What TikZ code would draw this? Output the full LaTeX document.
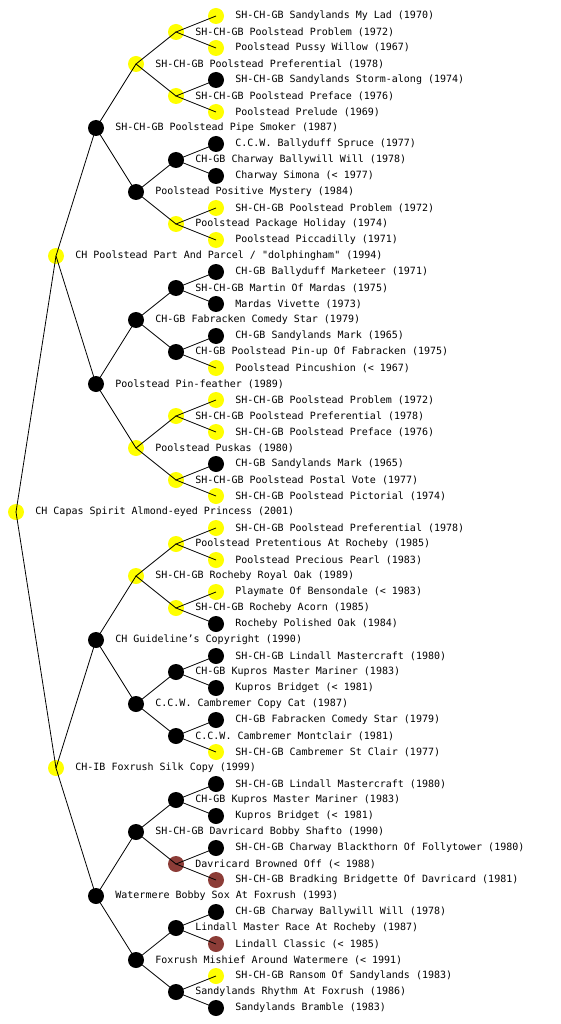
\documentclass[tikz,border=0pt]{standalone}
\usepackage{fontspec}
\setmonofont{DejaVu Sans Mono}
\usetikzlibrary{positioning}
\definecolor{dogyellow}{RGB}{255,255,0}
\definecolor{dogblack}{RGB}{0,0,0}
\definecolor{dogbrown}{RGB}{140,60,55}

\begin{document}
\begin{tikzpicture}[x=1pt, y=-1pt,
  dot/.style={circle, minimum size=16pt, inner sep=0pt},
  dogname/.style={anchor=west, inner sep=0pt, font=\ttfamily\fontsize{10}{12}\selectfont},
  link/.style={line width=0.8pt}]
  \useasboundingbox (0,0) rectangle (560,1024);
  % Chien (generation 0)
  \node[dot, fill=dogyellow] (dog31) at (16,512) {};
  \node[dogname, right=11pt of dog31] (lab31) {CH Capas Spirit Almond-eyed Princess (2001)};
  % Parents et grands-parents
  \foreach \r/\x/\c/\t in {
      15/56/dogyellow/{CH Poolstead Part And Parcel / "dolphingham" (1994)},
      47/56/dogyellow/{CH-IB Foxrush Silk Copy (1999)},
      7/96/dogblack/{SH-CH-GB Poolstead Pipe Smoker (1987)},
      23/96/dogblack/{Poolstead Pin-feather (1989)},
      39/96/dogblack/{CH Guideline’s Copyright (1990)},
      55/96/dogblack/{Watermere Bobby Sox At Foxrush (1993)}}
  {
    \node[dot, fill=\c] (dog\r) at (\x,16+16*\r) {};
    \node[dogname, right=11pt of dog\r] (lab\r) {\t};
  }
  % Arriere-grands-parents
  \foreach \r/\c/\t in {
      3/dogyellow/{SH-CH-GB Poolstead Preferential (1978)},
      11/dogblack/{Poolstead Positive Mystery (1984)},
      19/dogblack/{CH-GB Fabracken Comedy Star (1979)},
      27/dogyellow/{Poolstead Puskas (1980)},
      35/dogyellow/{SH-CH-GB Rocheby Royal Oak (1989)},
      43/dogblack/{C.C.W. Cambremer Copy Cat (1987)},
      51/dogblack/{SH-CH-GB Davricard Bobby Shafto (1990)},
      59/dogblack/{Foxrush Mishief Around Watermere (< 1991)}}
  {
    \node[dot, fill=\c] (dog\r) at (136,16+16*\r) {};
    \node[dogname, right=11pt of dog\r] (lab\r) {\t};
  }
  % Generation 4
  \foreach \r/\c/\t in {
      1/dogyellow/{SH-CH-GB Poolstead Problem (1972)},
      5/dogyellow/{SH-CH-GB Poolstead Preface (1976)},
      9/dogblack/{CH-GB Charway Ballywill Will (1978)},
      13/dogyellow/{Poolstead Package Holiday (1974)},
      17/dogblack/{SH-CH-GB Martin Of Mardas (1975)},
      21/dogblack/{CH-GB Poolstead Pin-up Of Fabracken (1975)},
      25/dogyellow/{SH-CH-GB Poolstead Preferential (1978)},
      29/dogyellow/{SH-CH-GB Poolstead Postal Vote (1977)},
      33/dogyellow/{Poolstead Pretentious At Rocheby (1985)},
      37/dogyellow/{SH-CH-GB Rocheby Acorn (1985)},
      41/dogblack/{CH-GB Kupros Master Mariner (1983)},
      45/dogblack/{C.C.W. Cambremer Montclair (1981)},
      49/dogblack/{CH-GB Kupros Master Mariner (1983)},
      53/dogbrown/{Davricard Browned Off (< 1988)},
      57/dogblack/{Lindall Master Race At Rocheby (1987)},
      61/dogblack/{Sandylands Rhythm At Foxrush (1986)}}
  {
    \node[dot, fill=\c] (dog\r) at (176,16+16*\r) {};
    \node[dogname, right=11pt of dog\r] (lab\r) {\t};
  }
  % Generation 5
  \foreach \r/\c/\t in {
      0/dogyellow/{SH-CH-GB Sandylands My Lad (1970)},
      2/dogyellow/{Poolstead Pussy Willow (1967)},
      4/dogblack/{SH-CH-GB Sandylands Storm-along (1974)},
      6/dogyellow/{Poolstead Prelude (1969)},
      8/dogblack/{C.C.W. Ballyduff Spruce (1977)},
      10/dogblack/{Charway Simona (< 1977)},
      12/dogyellow/{SH-CH-GB Poolstead Problem (1972)},
      14/dogyellow/{Poolstead Piccadilly (1971)},
      16/dogblack/{CH-GB Ballyduff Marketeer (1971)},
      18/dogblack/{Mardas Vivette (1973)},
      20/dogblack/{CH-GB Sandylands Mark (1965)},
      22/dogyellow/{Poolstead Pincushion (< 1967)},
      24/dogyellow/{SH-CH-GB Poolstead Problem (1972)},
      26/dogyellow/{SH-CH-GB Poolstead Preface (1976)},
      28/dogblack/{CH-GB Sandylands Mark (1965)},
      30/dogyellow/{SH-CH-GB Poolstead Pictorial (1974)},
      32/dogyellow/{SH-CH-GB Poolstead Preferential (1978)},
      34/dogyellow/{Poolstead Precious Pearl (1983)},
      36/dogyellow/{Playmate Of Bensondale (< 1983)},
      38/dogblack/{Rocheby Polished Oak (1984)},
      40/dogblack/{SH-CH-GB Lindall Mastercraft (1980)},
      42/dogblack/{Kupros Bridget (< 1981)},
      44/dogblack/{CH-GB Fabracken Comedy Star (1979)},
      46/dogyellow/{SH-CH-GB Cambremer St Clair (1977)},
      48/dogblack/{SH-CH-GB Lindall Mastercraft (1980)},
      50/dogblack/{Kupros Bridget (< 1981)},
      52/dogblack/{SH-CH-GB Charway Blackthorn Of Follytower (1980)},
      54/dogbrown/{SH-CH-GB Bradking Bridgette Of Davricard (1981)},
      56/dogblack/{CH-GB Charway Ballywill Will (1978)},
      58/dogbrown/{Lindall Classic (< 1985)},
      60/dogyellow/{SH-CH-GB Ransom Of Sandylands (1983)},
      62/dogblack/{Sandylands Bramble (1983)}}
  {
    \node[dot, fill=\c] (dog\r) at (216,16+16*\r) {};
    \node[dogname, right=11pt of dog\r] (lab\r) {\t};
  }
  % Liens parent -> pere / mere
  \foreach \p/\a/\b in {31/15/47, 15/7/23, 47/39/55,
      7/3/11, 23/19/27, 39/35/43, 55/51/59,
      3/1/5, 11/9/13, 19/17/21, 27/25/29, 35/33/37, 43/41/45, 51/49/53, 59/57/61,
      1/0/2, 5/4/6, 9/8/10, 13/12/14, 17/16/18, 21/20/22, 25/24/26, 29/28/30,
      33/32/34, 37/36/38, 41/40/42, 45/44/46, 49/48/50, 53/52/54, 57/56/58, 61/60/62}
    \draw[link] (dog\a.center) -- (dog\p.center) -- (dog\b.center);
\end{tikzpicture}
\end{document}
